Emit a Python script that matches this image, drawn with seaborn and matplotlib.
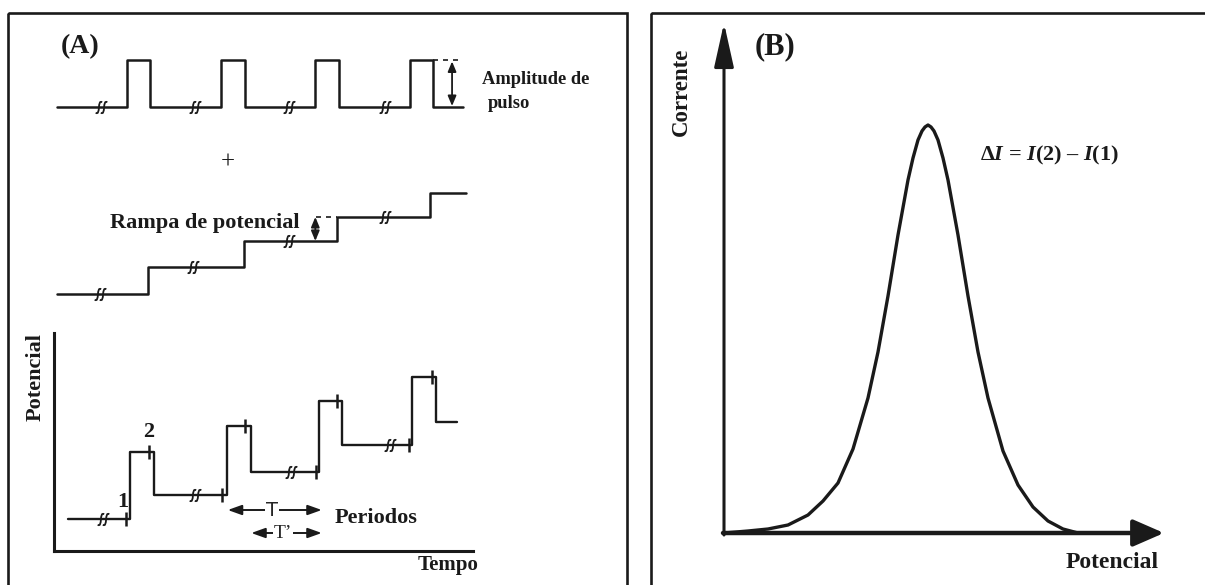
import matplotlib
matplotlib.use("Agg")
import matplotlib.pyplot as plt
from matplotlib.patches import Rectangle
from matplotlib.path import Path
import seaborn as sns

sns.set_theme(style="white")
plt.rcParams["font.family"] = ["Liberation Serif", "DejaVu Serif"]
plt.rcParams["mathtext.fontset"] = "custom"
plt.rcParams["mathtext.rm"] = "Liberation Serif:bold"
plt.rcParams["mathtext.bf"] = "Liberation Serif:bold"
plt.rcParams["mathtext.it"] = "Liberation Serif:bold:italic"

W, H = 1205, 585

# ---------------- data ----------------
# (A) pulse train: time in tenths of a period, amplitude normalised
pulse_t = [0.1, 7.5, 10.0, 17.5, 20.0, 27.5, 30.0, 37.5, 40.0, 43.2]
pulse_v = [0, 1, 0, 1, 0, 1, 0, 1, 0, 0]
pulse_breaks_t = [4.8, 14.7, 24.7, 34.9]

# (A) potential ramp (staircase)
ramp_t = [0.1, 9.8, 19.9, 29.8, 39.7, 43.5]
ramp_v = [0.0, 1.07, 2.1, 3.05, 4.0, 4.0]
ramp_breaks_t = [4.7, 14.5, 24.7, 34.9]
ramp_breaks_v = [0.0, 1.07, 2.1, 3.05]

# (A) resulting waveform (ramp + pulses)
wave_t = [0.9, 7.5, 10.05, 17.8, 20.4, 27.6, 30.1, 37.5, 40.05, 42.3]
wave_e = [32, 99, 56, 125, 79, 150, 106, 174, 129, 129]
wave_breaks_t = [4.6, 14.4, 24.6, 35.2]
wave_breaks_e = [32, 56, 79, 106]
sample1_t = [7.1, 17.3, 27.3, 37.2]
sample1_e = [32, 56, 79, 106]
sample2_t = [9.5, 19.7, 29.5, 39.6]
sample2_e = [99, 125, 150, 174]

# (B) differential pulse voltammogram
peak_p = [0, 24, 44, 64, 84, 99, 114, 129, 144, 154, 164, 174, 184, 189, 194,
          198, 201, 204, 207, 210, 214, 219, 224, 234, 244, 254, 264, 279, 294,
          309, 324, 339, 354]
peak_i = [0, 2, 4, 8, 18, 32, 50, 84, 135, 181, 237, 298, 353, 375, 393,
          402, 406, 408, 406, 402, 393, 375, 353, 298, 237, 181, 135, 82, 48,
          26, 12, 4, 0]

fig = plt.figure(figsize=(W / 100, H / 100), dpi=100)


def px_axes(left, top, right, bottom, xlim, ylim):
    ax = fig.add_axes([left / W, 1 - bottom / H, (right - left) / W, (bottom - top) / H])
    ax.set_xlim(*xlim)
    ax.set_ylim(*ylim)
    ax.patch.set_alpha(0)
    ax.axis("off")
    return ax


# double wavy "ʃʃ" mark used for time-axis breaks
def _esh(dx):
    return [(-0.5 + dx, -0.8), (0.3 + dx, -1.4), (-0.3 + dx, 1.4), (0.5 + dx, 0.8)]


_codes = [Path.MOVETO, Path.CURVE4, Path.CURVE4, Path.CURVE4]
BREAK_MARK = Path(_esh(-0.4) + _esh(0.4), _codes * 2)


def draw_breaks(ax, ts, vs):
    ax.plot(ts, vs, ls="none", marker=BREAK_MARK, ms=13, mfc="none", mec="k",
            mew=1.3, clip_on=False, zorder=4)


# overlay in pixel units for frames and labels
ov = fig.add_axes([0, 0, 1, 1])
ov.set_xlim(0, W)
ov.set_ylim(H, 0)
ov.axis("off")
ov.add_patch(Rectangle((8, 13), 619, 600, fill=False, lw=1.9, ec="k", clip_on=False))
ov.add_patch(Rectangle((651, 13), 600, 600, fill=False, lw=1.9, ec="k", clip_on=False))

bold = dict(fontweight="bold", color="k")
ov.text(80, 47, "(A)", ha="center", va="center", fontsize=20, **bold)
ov.text(482, 80, "Amplitude de", ha="left", va="center", fontsize=13.3, **bold)
ov.text(488, 103, "pulso", ha="left", va="center", fontsize=13.3, **bold)
ov.text(228, 163, "+", ha="center", va="center", fontsize=18, color="k")
ov.text(300, 223, "Rampa de potencial", ha="right", va="center", fontsize=16, **bold)
ov.text(36, 377, "Potencial", ha="center", va="center", rotation=90, fontsize=16, **bold)
ov.text(448, 565, "Tempo", ha="center", va="center", fontsize=15, **bold)
ov.text(122.5, 502, "1", ha="center", va="center", fontsize=16, **bold)
ov.text(149, 432, "2", ha="center", va="center", fontsize=16, **bold)
ov.text(335, 518, "Periodos", ha="left", va="center", fontsize=16, **bold)
ov.text(681, 92, "Corrente", ha="center", va="center", rotation=90, fontsize=16.5, **bold)
ov.text(775, 47, "(B)", ha="center", va="center", fontsize=22, **bold)
ov.text(980, 155, r"$\Delta\mathit{I}$ = $\mathit{I}$(2) – $\mathit{I}$(1)", ha="left",
        va="center", fontsize=16, **bold)
ov.text(1112, 562, "Potencial", ha="center", va="center", fontsize=17, **bold)

line_kw = dict(color="k", estimator=None, sort=False, legend=False, clip_on=False)

# ---- pulse train ----
ax1 = px_axes(56, 60, 56 + 9.43 * 44, 107, (0, 44), (0, 1))
sns.lineplot(x=pulse_t, y=pulse_v, ax=ax1, drawstyle="steps-post", lw=1.8, **line_kw)
draw_breaks(ax1, pulse_breaks_t, [0] * len(pulse_breaks_t))
ax1.plot([40.0, 43.2], [1, 1], color="k", lw=1.2, ls=(0, (3, 3)), clip_on=False)
ax1.annotate("", xy=(42.0, 0.97), xytext=(42.0, 0.02),
             arrowprops=dict(arrowstyle="<|-|>,head_length=0.6,head_width=0.25",
                             mutation_scale=10, lw=1.3, color="k", shrinkA=0, shrinkB=0),
             annotation_clip=False)

# ---- potential ramp ----
ax2 = px_axes(56, 193, 56 + 9.43 * 44, 294, (0, 44), (0, 4))
sns.lineplot(x=ramp_t, y=ramp_v, ax=ax2, drawstyle="steps-post", lw=1.8, **line_kw)
draw_breaks(ax2, ramp_breaks_t, ramp_breaks_v)
ax2.plot([27.6, 29.8], [3.05, 3.05], color="k", lw=1.2, ls=(0, (3, 3)), clip_on=False)
ax2.annotate("", xy=(27.5, 3.05), xytext=(27.5, 2.1),
             arrowprops=dict(arrowstyle="<|-|>,head_length=0.6,head_width=0.25",
                             mutation_scale=10, lw=1.3, color="k", shrinkA=0, shrinkB=0),
             annotation_clip=False)

# ---- resulting waveform with axes ----
ax3 = fig.add_axes([53.6 / W, 1 - 551 / H, (472.6 - 53.6) / W, (551 - 333) / H])
ax3.set_xlim(-0.63, 43.95)
ax3.set_ylim(0, 218)
ax3.patch.set_alpha(0)
ax3.set_xticks([])
ax3.set_yticks([])
sns.despine(ax=ax3)
for side in ("left", "bottom"):
    ax3.spines[side].set_linewidth(2.2)
    ax3.spines[side].set_color("k")
sns.lineplot(x=wave_t, y=wave_e, ax=ax3, drawstyle="steps-post", lw=1.7, **line_kw)
draw_breaks(ax3, wave_breaks_t, wave_breaks_e)
ax3.plot(sample1_t, sample1_e, ls="none", marker="|", ms=10, mew=1.8, color="k")
ax3.plot(sample2_t, sample2_e, ls="none", marker="|", ms=10, mew=1.8, color="k")
arr = dict(arrowstyle="<|-|>,head_length=0.7,head_width=0.25", mutation_scale=12,
           lw=1.4, color="k", shrinkA=0, shrinkB=0)
ax3.annotate("", xy=(27.9, 41), xytext=(17.9, 41), arrowprops=arr)
ax3.annotate("", xy=(27.9, 18), xytext=(20.4, 18), arrowprops=arr)
ax3.text(22.6, 41, "T", ha="center", va="center", fontsize=14, family="DejaVu Sans",
         bbox=dict(fc="white", ec="none", pad=0.5), zorder=5)
ax3.text(23.8, 18, "T’", ha="center", va="center", fontsize=14,
         bbox=dict(fc="white", ec="none", pad=0.5), zorder=5)

# ---- (B) voltammogram ----
ax4 = px_axes(724, 23, 1164, 533, (0, 440), (0, 510))
sns.lineplot(x=peak_p, y=peak_i, ax=ax4, lw=2.4, **line_kw)
ax4.annotate("", xy=(0, 510), xytext=(0, -2),
             arrowprops=dict(arrowstyle="-|>,head_length=1.35,head_width=0.3",
                             mutation_scale=20, lw=2.2, color="k", shrinkA=0, shrinkB=0),
             annotation_clip=False)
ax4.annotate("", xy=(440, 0), xytext=(-1, 0),
             arrowprops=dict(arrowstyle="-|>,head_length=0.94,head_width=0.41",
                             mutation_scale=20, lw=3.2, color="k", shrinkA=0, shrinkB=0),
             annotation_clip=False)

fig.savefig("out.png", dpi=100)
